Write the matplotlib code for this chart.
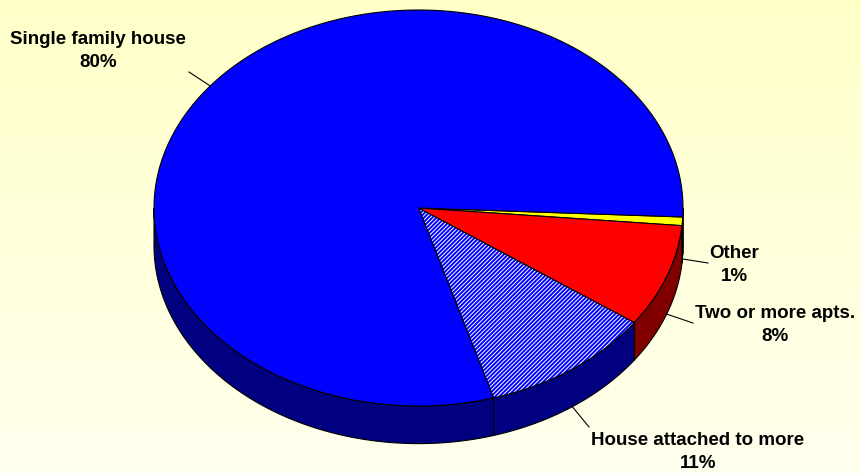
import numpy as np
import matplotlib.pyplot as plt
from matplotlib.patches import Polygon

# slice data, clockwise from the right edge
labels = ["Other", "Two or more apts.", "House attached to more", "Single family house"]
values = [0.7, 8.4, 10.6, 80.3]
top_colors = ["#FFFF00", "#FF0000", "#FFFFFF", "#0000FF"]
side_colors = ["#808000", "#800000", "#000080", "#000080"]
hatches = [None, None, "////////", None]

# label layout (pixel positions in the 862x473 image)
label_pos = [(734, 265), (775, 325), (698, 452), (98, 51)]
leader_end = [(708, 263), (693, 323), (589, 427), (189, 72)]

start_angle = -2.6   # degrees, math convention
depth = 0.19         # thickness of the pie, in radius units

# pie centre / radii in pixels
cx, cy, rx, ry = 418.5, 208.0, 264.5, 198.0
W, H = 862, 473


def px(x, y):
    return (x - cx) / rx, (cy - y) / ry


plt.rcParams["hatch.linewidth"] = 1.4

fig = plt.figure(figsize=(W / 100, H / 100), dpi=100)
ax = fig.add_axes([0, 0, 1, 1])
x0, y0 = px(0, H)
x1, y1 = px(W, 0)

# yellow gradient background
grad = np.linspace(0, 1, 256)[:, None]
bg = np.zeros((256, 1, 3))
top_c = np.array([255, 255, 200]) / 255
bot_c = np.array([255, 255, 238]) / 255
bg[:, 0, :] = top_c * (1 - grad) + bot_c * grad
ax.imshow(bg, extent=[x0, x1, y0, y1], aspect="auto", zorder=0)


def arc(t_from, t_to, n=200):
    t = np.deg2rad(np.linspace(t_from, t_to, n))
    return np.column_stack([np.cos(t), np.sin(t)])


spans = np.array(values) / sum(values) * 360
a0 = start_angle
for i, span in enumerate(spans):
    a1 = a0 - span
    # visible front wall pieces
    for k in range(-2, 2):
        lo = max(a1, -180 + 360 * k)
        hi = min(a0, 360 * k)
        if hi > lo:
            top = arc(hi, lo)
            bot = top[::-1] - [0, depth]
            ax.add_patch(Polygon(np.vstack([top, bot]), closed=True,
                                 facecolor=side_colors[i], edgecolor="black",
                                 lw=0.8, zorder=2))
    # top face
    pts = np.vstack([[0, 0], arc(a0, a1)])
    if hatches[i]:
        ax.add_patch(Polygon(pts, closed=True, facecolor="white",
                             edgecolor="#0000FF", hatch=hatches[i], lw=0, zorder=3))
        ax.add_patch(Polygon(pts, closed=True, fill=False,
                             edgecolor="black", lw=0.8, zorder=3))
    else:
        ax.add_patch(Polygon(pts, closed=True, facecolor=top_colors[i],
                             edgecolor="black", lw=0.8, zorder=3))

    # leader line from the middle of the slice
    mid = np.deg2rad((a0 + a1) / 2)
    mx, my = np.cos(mid), np.sin(mid)
    if my < 0:
        my -= depth
    ex, ey = px(*leader_end[i])
    ax.plot([mx, ex], [my, ey], color="black", lw=0.8, zorder=4)

    tx, ty = px(*label_pos[i])
    ax.text(tx, ty, f"{labels[i]}\n{round(values[i])}%", ha="center", va="center",
            fontsize=13.5, fontweight="bold", family="Liberation Sans",
            linespacing=1.45, zorder=5)
    a0 = a1

ax.set_xlim(x0, x1)
ax.set_ylim(y0, y1)
ax.axis("off")

fig.savefig("out.png", dpi=100)
